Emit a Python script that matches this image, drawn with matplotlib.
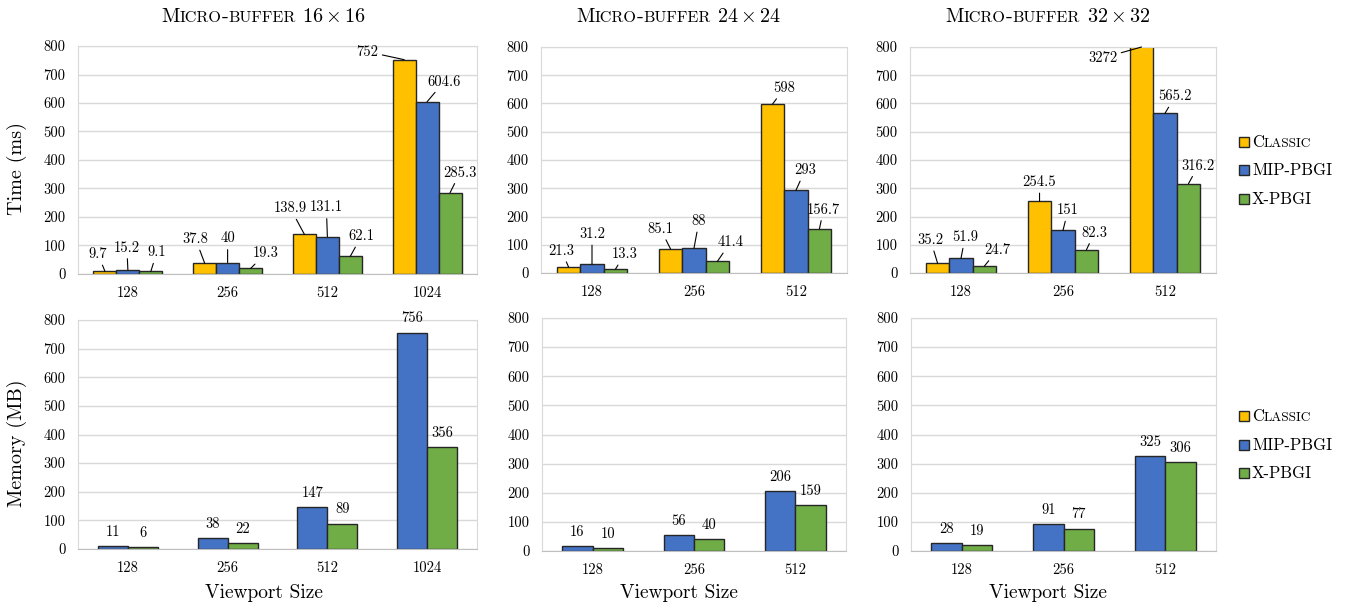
import numpy as np
import matplotlib
matplotlib.use('Agg')
import matplotlib.pyplot as plt
from matplotlib.patches import Rectangle

plt.rcParams['font.family'] = ['cmr10', 'DejaVu Serif']
plt.rcParams['mathtext.fontset'] = 'cm'
plt.rcParams['axes.formatter.use_mathtext'] = True

# viewport sizes per micro-buffer resolution
sizes_16 = ['128', '256', '512', '1024']
sizes_24 = ['128', '256', '512']
sizes_32 = ['128', '256', '512']

# render time (ms)
time_classic_16 = [9.7, 37.8, 138.9, 752]
time_mip_16 = [15.2, 40, 131.1, 604.6]
time_x_16 = [9.1, 19.3, 62.1, 285.3]
time_classic_24 = [21.3, 85.1, 598]
time_mip_24 = [31.2, 88, 293]
time_x_24 = [13.3, 41.4, 156.7]
time_classic_32 = [35.2, 254.5, 3272]
time_mip_32 = [51.9, 151, 565.2]
time_x_32 = [24.7, 82.3, 316.2]

# memory (MB)
mem_mip_16 = [11, 38, 147, 756]
mem_x_16 = [6, 22, 89, 356]
mem_mip_24 = [16, 56, 206]
mem_x_24 = [10, 40, 159]
mem_mip_32 = [28, 91, 325]
mem_x_32 = [19, 77, 306]

res_names = ['16', '24', '32']
series_names = ['Classic', 'MIP-PBGI', 'X-PBGI']

# label offsets in pixels (dx, dy) from the bar top, per category then series
off_16 = [[(-7, 17), (-1, 22), (6, 19)], [(-9, 24), (0, 24), (15, 15)],
          [(-14, 26), (-1, 29), (11, 20)], [(-37, 8), (17, 20), (10, 20)]]
off_24 = [[(-7, 16), (0, 30), (9, 15)], [(-10, 20), (5, 27), (13, 19)],
          [(12, 16), (9, 20), (4, 19)]]
off_32 = [[(-7, 23), (4, 21), (13, 16)], [(0, 19), (5, 20), (8, 17)],
          [(-39, -11), (10, 17), (10, 18)]]

YELLOW = '#FFC000'
BLUE = '#4472C4'
GREEN = '#70AD47'
EDGE = '#262626'
GRID = '#D9D9D9'

W, H = 1346, 608
fig = plt.figure(figsize=(W / 100, H / 100), dpi=100)
renderer = fig.canvas.get_renderer()


def rect(l, t, r, b):
    return [l / W, 1 - b / H, (r - l) / W, (b - t) / H]


def smallcaps(xc, ybase, s, size, ha='center', ratio=0.8):
    # fake small caps: lowercase letters drawn as smaller capitals
    pieces = []
    for word in s.split(' '):
        if '$' in word:
            pieces.append([(word, size)])
            continue
        runs = []
        for ch in word:
            small = ch.islower()
            if runs and runs[-1][1] == small:
                runs[-1][0] += ch
            else:
                runs.append([ch, small])
        pieces.append([(t.upper() if sm else t, size * ratio if sm else size) for t, sm in runs])
    texts = []
    x = 0.0
    gap = 0.33 * size * 100 / 72
    for i, word in enumerate(pieces):
        if i:
            x += gap
        for t, fs in word:
            art = fig.text(0, 1 - ybase / H, t, fontsize=fs, va='baseline', ha='left')
            w = art.get_window_extent(renderer).width
            texts.append((art, x))
            x += w
    x0 = xc - x / 2 if ha == 'center' else xc
    for art, dx in texts:
        art.set_x((x0 + dx) / W)


def style(ax, cats):
    ax.set_xlim(-0.5, len(cats) - 0.5)
    ax.set_ylim(0, 800)
    ax.set_yticks(np.arange(0, 801, 100))
    ax.set_yticklabels([str(v) for v in range(0, 801, 100)])
    ax.set_xticks(np.arange(len(cats)))
    ax.set_xticklabels(cats)
    ax.tick_params(length=0, labelsize=10.5, pad=9)
    ax.grid(axis='y', color=GRID, lw=1)
    ax.set_axisbelow(True)
    for sp in ax.spines.values():
        sp.set_color(GRID)
    ax.spines['bottom'].set_color('#BFBFBF')


top_rects = [rect(78, 46, 477, 274), rect(541, 47, 847, 273), rect(910, 47, 1216, 273)]
bot_rects = [rect(78, 320, 477, 549), rect(542, 318, 846, 551), rect(911, 318, 1216, 551)]

time_data = [(sizes_16, time_classic_16, time_mip_16, time_x_16, off_16),
             (sizes_24, time_classic_24, time_mip_24, time_x_24, off_24),
             (sizes_32, time_classic_32, time_mip_32, time_x_32, off_32)]
mem_data = [(sizes_16, mem_mip_16, mem_x_16),
            (sizes_24, mem_mip_24, mem_x_24),
            (sizes_32, mem_mip_32, mem_x_32)]

bw = 0.23
for k, (cats, cl, mip, xp, offs) in enumerate(time_data):
    ax = fig.add_axes(top_rects[k])
    style(ax, cats)
    x = np.arange(len(cats))
    for j, (vals, col) in enumerate([(cl, YELLOW), (mip, BLUE), (xp, GREEN)]):
        xs = x + (j - 1) * bw
        ax.bar(xs, vals, bw, color=col, edgecolor=EDGE, lw=1, zorder=2)
        for i, v in enumerate(vals):
            dx, dy = offs[i][j]
            ax.annotate(f'{v:g}', xy=(xs[i], min(v, 800)), xytext=(dx, dy),
                        textcoords='offset pixels', ha='center', va='center',
                        fontsize=10.5, annotation_clip=False,
                        arrowprops=dict(arrowstyle='-', color='black', lw=0.8,
                                        shrinkA=1, shrinkB=0))

mw = 0.30
for k, (cats, mip, xp) in enumerate(mem_data):
    ax = fig.add_axes(bot_rects[k])
    style(ax, cats)
    x = np.arange(len(cats))
    for j, (vals, col) in enumerate([(mip, BLUE), (xp, GREEN)]):
        xs = x + (j - 0.5) * mw
        ax.bar(xs, vals, mw, color=col, edgecolor=EDGE, lw=1, zorder=2)
        for i, v in enumerate(vals):
            ax.annotate(f'{v:g}', xy=(xs[i], v), xytext=(0, 14),
                        textcoords='offset pixels', ha='center', va='center',
                        fontsize=10.5)

# titles and axis titles
title_x = [264, 679, 1048]
for xc, r in zip(title_x, res_names):
    smallcaps(xc, 22, f'Micro-buffer ${r}\\times{r}$', 14.5)
    fig.text(xc / W, 1 - 593 / H, 'Viewport Size', fontsize=14, ha='center', va='center')

fig.text(17 / W, 1 - 168 / H, 'Time (ms)', fontsize=14.5, rotation=90, ha='center', va='center')
fig.text(17 / W, 1 - 443 / H, 'Memory (MB)', fontsize=14.5, rotation=90, ha='center', va='center')

# legends for both rows
for ys in ([142, 170, 199], [416, 445, 473]):
    for name, col, y in zip(series_names, [YELLOW, BLUE, GREEN], ys):
        fig.patches.append(Rectangle((1239 / W, 1 - (y + 5) / H), 10 / W, 10 / H,
                                     transform=fig.transFigure, facecolor=col,
                                     edgecolor=EDGE, lw=1))
        smallcaps(1252, y + 5, name, 12, ha='left')

fig.savefig('out.png', dpi=100)
